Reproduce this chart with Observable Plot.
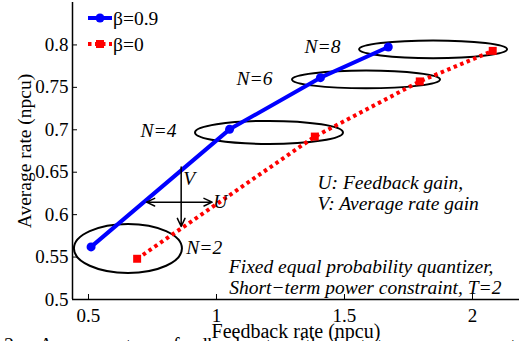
<!DOCTYPE html>
<html>
<head>
<meta charset="utf-8">
<script src="https://cdn.jsdelivr.net/npm/d3@7"></script>
<script src="https://cdn.jsdelivr.net/npm/@observablehq/plot@0.6"></script>
<style>
  html, body { margin: 0; padding: 0; background: white; }
  #wrap { position: relative; width: 519px; height: 341px; overflow: hidden; background: white; }
  #chart svg, #chart svg text { font-family: "Liberation Serif", "DejaVu Serif", serif !important; }
  #caption { position: absolute; left: 4px; top: 334px; font-family: "Liberation Serif", "DejaVu Serif", serif; font-size: 20px; line-height: 23px; white-space: nowrap; color: #000; }
</style>
</head>
<body>
<div id="wrap"><div id="chart"></div><div id="caption">2.&nbsp;&nbsp;&nbsp;&nbsp;Average rate vs. feedback rate with short−term power constraint</div></div>
<script>
// ---- data ----
const seriesNames = ["β=0.9", "β=0"];
const betaHiX = [0.51, 1.051, 1.406, 1.671];
const betaHiY = [0.562, 0.7005, 0.7614, 0.7975];
const betaZeroX = [0.690, 1.384, 1.794, 2.079];
const betaZeroY = [0.548, 0.692, 0.757, 0.793];

const xTicks = [0.5, 1, 1.5, 2];
const xTickLabels = ["0.5", "1", "1.5", "2"];
const yTicks = [0.5, 0.55, 0.6, 0.65, 0.7, 0.75, 0.8];
const yTickLabels = ["0.5", "0.55", "0.6", "0.65", "0.7", "0.75", "0.8"];

// grouping ellipses (center / radii in data units)
const ellipseCx = [0.656, 1.207, 1.586, 1.848];
const ellipseCy = [0.5596, 0.6963, 0.7588, 0.7942];
const ellipseRx = [0.211, 0.289, 0.289, 0.289];
const ellipseRy = [0.0289, 0.0136, 0.0104, 0.0104];

const nLabels = ["N=2", "N=4", "N=6", "N=8"];
const nLabelX = [0.882, 0.703, 1.078, 1.344];
const nLabelY = [0.5613, 0.6993, 0.7598, 0.7983];

// arrows (U horizontal double arrow, V vertical arrow)
const arrowX1 = [0.862, 0.862, 0.862];
const arrowY1 = [0.6147, 0.6147, 0.656];
const arrowX2 = [0.7266, 0.983, 0.862];
const arrowY2 = [0.6147, 0.6147, 0.586];
const uvLabels = ["V", "U"];
const uvLabelX = [0.870, 0.987];
const uvLabelY = [0.6427, 0.6156];

const noteLines = ["U: Feedback gain,", "V: Average rate gain"];
const noteX = [1.3945, 1.3945];
const noteY = [0.638, 0.6132];
const condLines = ["Fixed equal probability quantizer,", "Short−term power constraint, T=2"];
const condX = [2.082, 2.113];
const condY = [0.5389, 0.5136];

const xLabel = "Feedback rate (npcu)";
const yLabel = "Average rate (npcu)";
const xDomain = [0.4375, 2.1836];
const yDomain = [0.5, 0.85];

// ---- build tables ----
const hi = betaHiX.map((x, i) => ({x, y: betaHiY[i]}));
const zero = betaZeroX.map((x, i) => ({x, y: betaZeroY[i]}));
const ellipses = ellipseCx.map((cx, i) => ({cx, cy: ellipseCy[i], rx: ellipseRx[i], ry: ellipseRy[i]}));
const nTbl = nLabels.map((t, i) => ({t, x: nLabelX[i], y: nLabelY[i]}));
const arrows = arrowX1.map((x1, i) => ({x1, y1: arrowY1[i], x2: arrowX2[i], y2: arrowY2[i]}));
const uvTbl = uvLabels.map((t, i) => ({t, x: uvLabelX[i], y: uvLabelY[i]}));
const noteTbl = noteLines.map((t, i) => ({t, x: noteX[i], y: noteY[i]}));
const condTbl = condLines.map((t, i) => ({t, x: condX[i], y: condY[i]}));

const W = 519, H = 341, mL = 72, mR = 0, mT = 2, mB = 42;
const serif = "Liberation Serif, DejaVu Serif, serif";
const annSize = 19.5;

function ellipseMark(index, scales) {
  const g = d3.create("svg:g").attr("fill", "none").attr("stroke", "black").attr("stroke-width", 2);
  for (const e of ellipses) {
    const cx = scales.x(e.cx), cy = scales.y(e.cy);
    const rx = Math.abs(scales.x(e.cx + e.rx) - cx);
    const ry = Math.abs(scales.y(e.cy + e.ry) - cy);
    g.append("ellipse").attr("cx", cx).attr("cy", cy).attr("rx", rx).attr("ry", ry);
  }
  return g.node();
}

function legendMark() {
  const g = d3.create("svg:g").attr("font-size", 19.5).attr("text-anchor", "start");
  const rows = [
    {name: seriesNames[0], color: "blue", dash: null, sym: "circle", y: 18},
    {name: seriesNames[1], color: "red", dash: "3.5,3.5", sym: "square", y: 44}
  ];
  for (const r of rows) {
    g.append("line").attr("x1", 88).attr("x2", 112).attr("y1", r.y).attr("y2", r.y)
      .attr("stroke", r.color).attr("stroke-width", 4).attr("stroke-dasharray", r.dash);
    if (r.sym === "circle") g.append("circle").attr("cx", 100).attr("cy", r.y).attr("r", 4.5).attr("fill", r.color);
    else g.append("rect").attr("x", 96).attr("y", r.y - 4).attr("width", 8).attr("height", 8).attr("fill", r.color);
    g.append("text").attr("x", 113).attr("y", r.y + 7).attr("fill", "black").text(r.name);
  }
  return g.node();
}

const plot = Plot.plot({
  width: W, height: H,
  marginLeft: mL, marginRight: mR, marginTop: mT, marginBottom: mB,
  style: {"font-family": serif, "font-size": "19px", color: "black", background: "white"},
  x: {domain: xDomain},
  y: {domain: yDomain},
  marks: [
    Plot.axisX(xTicks, {tickSize: 0, tickPadding: 9, tickFormat: (d) => xTickLabels[xTicks.indexOf(d)], label: null, fontSize: 19, fill: "black"}),
    Plot.axisY(yTicks, {tickSize: 0, tickPadding: 4, tickFormat: (d) => yTickLabels[yTicks.indexOf(d)], label: null, fontSize: 19, fill: "black"}),
    Plot.tickX(xTicks, {x: (d) => d, insetTop: (H - mT - mB) - 5, stroke: "black", strokeWidth: 1}),
    Plot.tickY(yTicks, {y: (d) => d, insetRight: (W - mL - mR) - 5, stroke: "black", strokeWidth: 1}),
    Plot.ruleX([xDomain[0]], {stroke: "black", strokeWidth: 1.5}),
    Plot.ruleY([yDomain[0]], {stroke: "black", strokeWidth: 1.5}),
    ellipseMark,
    Plot.line(zero, {x: "x", y: "y", stroke: "red", strokeWidth: 4, strokeDasharray: "3.5,3.5", strokeLinecap: "butt"}),
    Plot.line(hi, {x: "x", y: "y", stroke: "blue", strokeWidth: 4}),
    Plot.dot(zero, {x: "x", y: "y", symbol: "square", r: 4.5, fill: "red"}),
    Plot.dot(hi, {x: "x", y: "y", r: 4.5, fill: "blue"}),
    Plot.arrow(arrows, {x1: "x1", y1: "y1", x2: "x2", y2: "y2", stroke: "black", strokeWidth: 1.5, headLength: 9, headAngle: 50}),
    Plot.text(nTbl, {x: "x", y: "y", text: "t", textAnchor: "start", fontStyle: "italic", fontSize: annSize, fill: "black"}),
    Plot.text(uvTbl, {x: "x", y: "y", text: "t", textAnchor: "start", fontStyle: "italic", fontSize: annSize, fill: "black"}),
    Plot.text(noteTbl, {x: "x", y: "y", text: "t", textAnchor: "start", fontStyle: "italic", fontSize: annSize, fill: "black"}),
    Plot.text(condTbl, {x: "x", y: "y", text: "t", textAnchor: "end", fontStyle: "italic", fontSize: annSize, fill: "black"}),
    Plot.text([yLabel], {frameAnchor: "left", dx: -48, rotate: -90, textAnchor: "middle", lineAnchor: "middle", fontSize: 19.5, fill: "black"}),
    Plot.text([xLabel], {frameAnchor: "bottom", dy: 32, textAnchor: "middle", lineAnchor: "middle", fontSize: 20, fill: "black"}),
    legendMark
  ]
});
document.getElementById("chart").appendChild(plot);
</script>
</body>
</html>
